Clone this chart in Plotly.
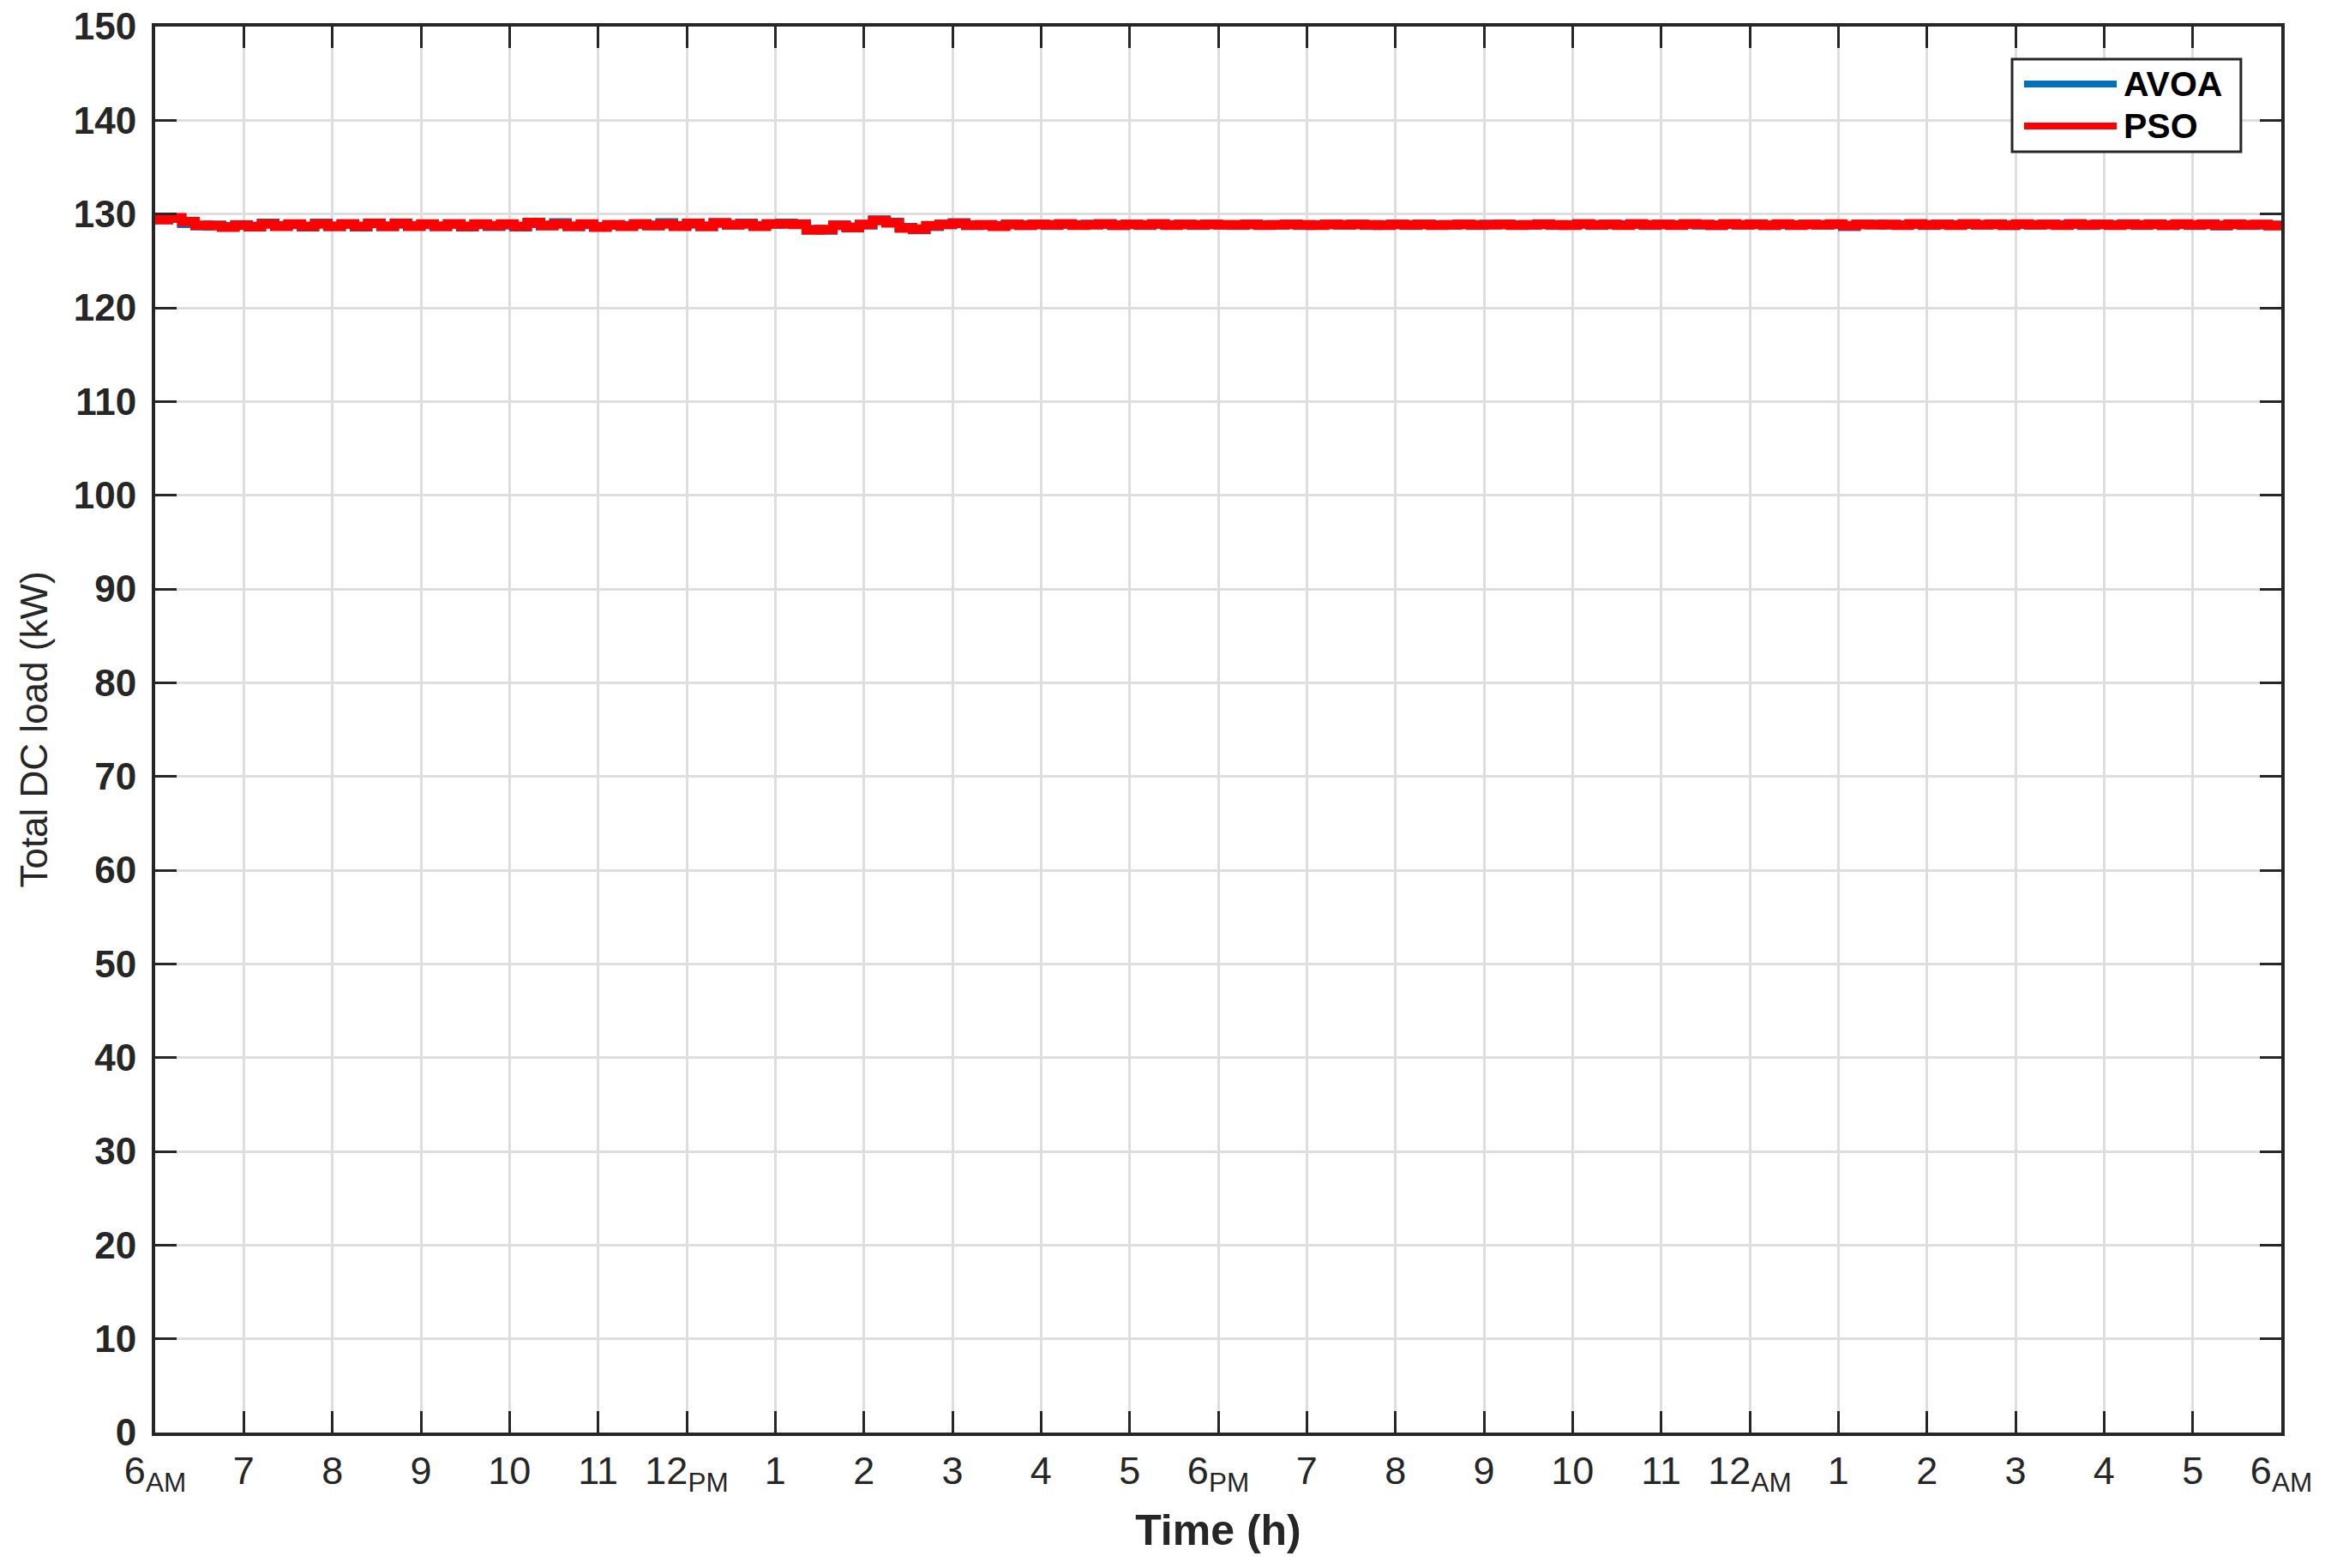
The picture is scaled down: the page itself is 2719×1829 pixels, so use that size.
import plotly.graph_objects as go

# ---------------- data ----------------
hour_ticks = list(range(0, 25))
hour_labels = ["6<sub>AM</sub>", "7", "8", "9", "10", "11", "12<sub>PM</sub>", "1", "2", "3", "4", "5",
               "6<sub>PM</sub>", "7", "8", "9", "10", "11", "12<sub>AM</sub>", "1", "2", "3", "4", "5",
               "6<sub>AM</sub>"]
y_ticks = list(range(0, 151, 10))
series_names = ["AVOA", "PSO"]

avoa_kw = [
    129.45, 129.55, 129.0, 128.75, 128.8, 128.65, 128.85, 128.7, 129.0, 128.75,
    128.9, 128.65, 129.0, 128.7, 128.95, 128.65, 129.0, 128.7, 128.95, 128.75,
    128.9, 128.7, 128.95, 128.65, 128.9, 128.7, 128.85, 128.65, 129.0, 128.8,
    129.05, 128.7, 128.9, 128.65, 128.85, 128.75, 128.95, 128.8, 129.05, 128.75,
    128.95, 128.7, 129.05, 128.85, 129.0, 128.75, 128.95, 129.0, 128.95, 128.35,
    128.3, 128.8, 128.6, 128.85, 129.35, 129.1, 128.55, 128.35, 128.7, 128.9,
    129.05, 128.8, 128.85, 128.75, 128.9, 128.8, 128.9, 128.8, 128.95, 128.85,
    128.9, 128.95, 128.8, 128.9, 128.8, 128.95, 128.85, 128.9, 128.8, 128.9,
    128.85, 128.8, 128.9, 128.85, 128.85, 128.9, 128.8, 128.85, 128.9, 128.85,
    128.9, 128.8, 128.85, 128.9, 128.8, 128.9, 128.85, 128.85, 128.9, 128.8,
    128.9, 128.9, 128.85, 128.85, 128.95, 128.8, 128.85, 128.95, 128.8, 128.9,
    128.85, 128.95, 128.8, 128.9, 128.85, 128.95, 128.85, 128.8, 128.95, 128.85,
    128.95, 128.8, 128.9, 128.85, 128.9, 128.85, 128.9, 128.7, 128.9, 128.9,
    128.85, 128.85, 128.95, 128.8, 128.9, 128.85, 128.95, 128.85, 128.95, 128.8,
    128.9, 128.85, 128.9, 128.85, 128.95, 128.8, 128.9, 128.85, 128.95, 128.8,
    128.95, 128.8, 128.9, 128.8, 128.95, 128.75, 128.95, 128.8, 128.85, 128.8,
]

pso_kw = [
    129.4, 129.6, 129.2, 128.8, 128.75, 128.6, 128.8, 128.65, 128.95, 128.7,
    128.95, 128.7, 128.95, 128.7, 128.95, 128.7, 129.0, 128.7, 129.0, 128.7,
    128.95, 128.7, 128.95, 128.7, 128.95, 128.75, 128.95, 128.7, 129.1, 128.75,
    128.95, 128.7, 128.95, 128.6, 128.85, 128.7, 128.95, 128.75, 128.95, 128.7,
    129.0, 128.7, 129.05, 128.85, 128.95, 128.7, 128.95, 128.95, 128.9, 128.3,
    128.35, 128.8, 128.55, 128.9, 129.3, 129.05, 128.5, 128.4, 128.75, 128.9,
    129.0, 128.8, 128.85, 128.7, 128.9, 128.8, 128.9, 128.85, 128.95, 128.8,
    128.85, 128.95, 128.8, 128.9, 128.85, 128.95, 128.8, 128.9, 128.85, 128.9,
    128.85, 128.85, 128.9, 128.8, 128.85, 128.9, 128.85, 128.8, 128.9, 128.85,
    128.9, 128.85, 128.8, 128.9, 128.85, 128.9, 128.8, 128.85, 128.9, 128.85,
    128.85, 128.9, 128.8, 128.85, 128.9, 128.85, 128.8, 128.95, 128.85, 128.9,
    128.8, 128.95, 128.85, 128.9, 128.8, 128.95, 128.9, 128.8, 128.95, 128.85,
    128.9, 128.8, 128.95, 128.8, 128.9, 128.85, 128.95, 128.75, 128.9, 128.85,
    128.9, 128.8, 128.95, 128.85, 128.9, 128.8, 128.95, 128.85, 128.9, 128.8,
    128.95, 128.85, 128.9, 128.8, 128.95, 128.85, 128.9, 128.8, 128.9, 128.85,
    128.9, 128.8, 128.95, 128.85, 128.9, 128.8, 128.9, 128.85, 128.9, 128.75,
]

step_h = 0.15  # sampling interval (hours)
time_h = [round(i * step_h, 2) for i in range(len(pso_kw) + 1)]

# ---------------- figure ----------------
AX = "#262626"
COLORS = ["#0072BD", "#FF0000"]
FONT = "Liberation Sans, Arial, Helvetica, sans-serif"
LW = 11

fig = go.Figure()
for name, vals, col in zip(series_names, [avoa_kw, pso_kw], COLORS):
    fig.add_trace(go.Scatter(x=time_h, y=vals + [vals[-1]], mode="lines", name=name,
                             line=dict(color=col, width=LW, shape="hv"), showlegend=False))

# MATLAB-style legend box (long line samples), placed in paper coordinates
box = dict(x0=0.8734, x1=0.9810, y0=0.9110, y1=0.9768)
shapes = [dict(type="rect", xref="paper", yref="paper", **box,
               line=dict(color=AX, width=3), fillcolor="white", layer="above")]
annotations = []
for name, col, yy in zip(series_names, COLORS, [0.9591, 0.9293]):
    shapes.append(dict(type="line", xref="paper", yref="paper", x0=0.8790, x1=0.9226, y0=yy, y1=yy,
                       line=dict(color=col, width=8), layer="above"))
    annotations.append(dict(xref="paper", yref="paper", x=0.9250, y=yy, xanchor="left", yanchor="middle",
                            text=name, showarrow=False,
                            font=dict(family=FONT, size=41, color="black", weight="bold")))

fig.update_layout(
    width=2719, height=1829, autosize=False,
    margin=dict(l=181, r=58, t=31, b=158, pad=0),
    paper_bgcolor="white", plot_bgcolor="white",
    font=dict(family=FONT, color=AX),
    showlegend=False,
    shapes=shapes, annotations=annotations,
)

fig.update_xaxes(
    range=[0, 24], tickmode="array", tickvals=hour_ticks, ticktext=hour_labels,
    showline=True, linecolor=AX, linewidth=4, mirror="ticks",
    ticks="inside", ticklen=25, tickwidth=3, tickcolor=AX,
    showgrid=True, gridcolor="#dedede", gridwidth=3, zeroline=False, automargin=False,
    ticklabeloverflow="allow",
    tickfont=dict(family=FONT, size=45, color=AX), ticklabelstandoff=2,
    title=dict(text="Time (h)", font=dict(family=FONT, size=50, color=AX, weight="bold"), standoff=22),
)
fig.update_yaxes(
    range=[0, 150], tickmode="array", tickvals=y_ticks,
    showline=True, linecolor=AX, linewidth=4, mirror="ticks",
    ticks="inside", ticklen=25, tickwidth=3, tickcolor=AX,
    showgrid=True, gridcolor="#dedede", gridwidth=3, zeroline=False, automargin=False,
    ticklabeloverflow="allow",
    tickfont=dict(family=FONT, size=44, color=AX, weight="bold"), ticklabelstandoff=9,
    title=dict(text="Total DC load (kW)", font=dict(family=FONT, size=44, color=AX), standoff=17),
)

# remove the browser's default 8px body margin so the figure fills the window exactly
page_fix = ("document.body.style.margin='0';"
            "document.body.style.overflow='hidden';"
            "document.documentElement.style.overflow='hidden';")
fig.write_html("out.html", config={"displayModeBar": False}, post_script=page_fix)
